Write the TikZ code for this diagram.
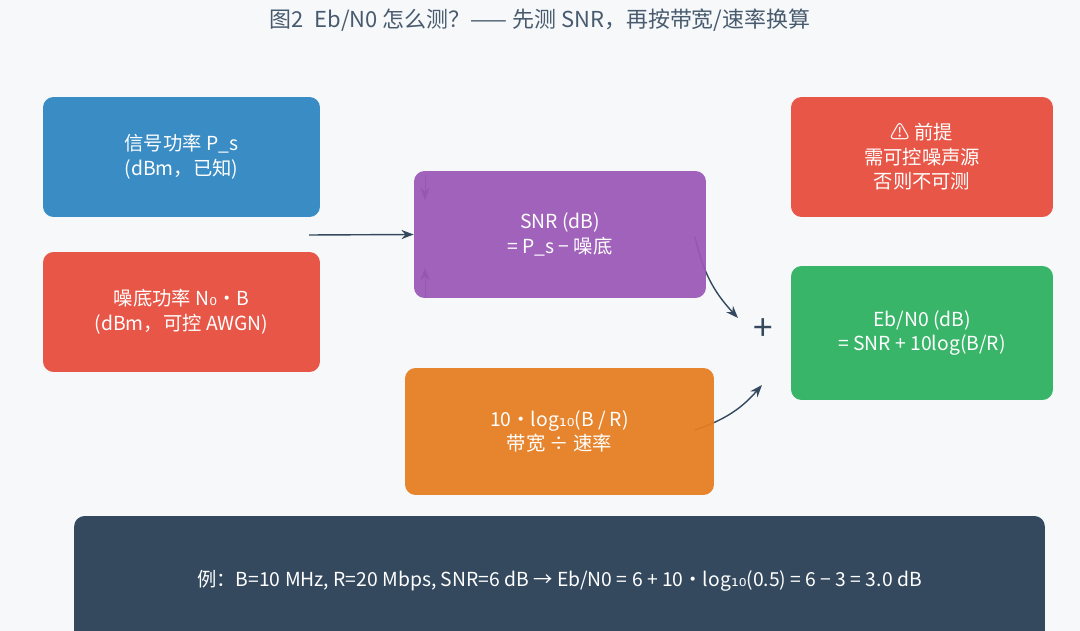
\documentclass[tikz,border=0pt]{standalone}
\usepackage{fontspec}
\setmainfont{Noto Sans CJK SC}
\newfontfamily\symf{DejaVu Sans}
\newcommand{\sub}[1]{{\symf #1}}
\usetikzlibrary{positioning,arrows.meta,backgrounds}
\definecolor{bgc}{HTML}{F6F8FA}
\definecolor{cblue}{HTML}{2E86C1}
\definecolor{cred}{HTML}{E74C3C}
\definecolor{cpurple}{HTML}{9B59B6}
\definecolor{corange}{HTML}{E67E22}
\definecolor{cgreen}{HTML}{2EB160}
\definecolor{cdark}{HTML}{34495E}
\tikzset{
  box/.style={rounded corners=6pt,fill opacity=0.94,text opacity=1,text=white,align=center,font=\fontsize{11pt}{14pt}\selectfont,inner sep=0pt},
  flow/.style={-{Stealth[length=7pt]},thick,cdark},
}
\begin{document}
\begin{tikzpicture}[x=0.02cm,y=-0.02cm]
  \useasboundingbox (0,0) rectangle (1080,631);
  \node[font=\fontsize{12.5pt}{14pt}\selectfont,text=cdark!90] (title) at (540,20) {图2\enspace Eb/N0 怎么测？—— 先测 SNR，再按带宽/速率换算};

  \node[box,fill=cblue,minimum width=5.54cm,minimum height=2.4cm] (ps) at (181.5,157) {信号功率 P\_s\\(dBm，已知)};
  \node[box,fill=cred,minimum width=5.54cm,minimum height=2.4cm] (nb) at (181.5,312) {噪底功率 N\sub{₀}·B\\(dBm，可控 AWGN)};
  \node[box,fill=cpurple,minimum width=5.84cm,minimum height=2.54cm] (snr) at (560,234.5) {SNR (dB)\\= P\_s − 噪底};
  \node[box,fill=corange,minimum width=6.18cm,minimum height=2.54cm] (bw) at (559.5,431.5) {10·log\sub{₁₀}(B / R)\\带宽 ÷ 速率};
  \node[box,fill=cred,minimum width=5.24cm,minimum height=2.4cm] (pre) at (922,157) {⚠ 前提\\需可控噪声源\\否则不可测};
  \node[box,fill=cgreen,minimum width=5.24cm,minimum height=2.68cm] (ebn0) at (922,333) {Eb/N0 (dB)\\= SNR + 10log(B/R)};
  \node[font=\fontsize{20pt}{20pt}\selectfont,text=cdark] (plus) at (763,330) {+};
  \node[rounded corners=6pt,fill=cdark,text=white,minimum width=19.42cm,minimum height=2.6cm,font=\fontsize{11pt}{14pt}\selectfont,inner sep=0pt] (ex) at (559.5,581) {例：B=10 MHz, R=20 Mbps, SNR=6 dB → Eb/N0 = 6 + 10·log\sub{₁₀}(0.5) = 6 − 3 = 3.0 dB};

  \coordinate (j) at (309,235);
  \coordinate (a1) at (425,175);
  \coordinate (a2) at (425,298);
  \coordinate (s1) at (695,237);
  \coordinate (s2) at (738,318);
  \coordinate (o1) at (695,430);
  \coordinate (o2) at (762,385);
  \begin{scope}[on background layer]
    \fill[bgc] (0,0) rectangle (1080,631);
    \draw[flow] (j) -- (snr.west);
    \draw[flow,thin] (a1) -- ++(0,25);
    \draw[flow,thin] (a2) -- ++(0,-30);
    \draw[flow] (s1) to[bend right=15] (s2);
    \draw[flow] (o1) to[bend right=15] (o2);
  \end{scope}
\end{tikzpicture}
\end{document}
